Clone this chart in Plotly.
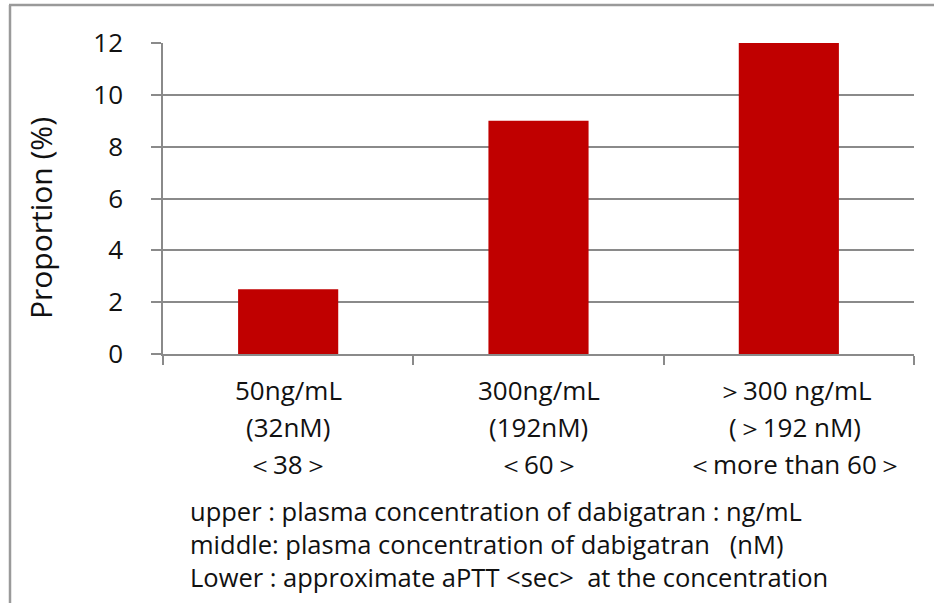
import plotly.graph_objects as go

# Bleeding proportion by dabigatran plasma concentration
conc_ngml = ["50ng/mL", "300ng/mL", "＞300 ng/mL"]
conc_nm = ["(32nM)", "(192nM)", "(＞192 nM)"]
aptt_sec = ["＜38＞", "＜60＞", "＜more than 60＞"]
proportion = [2.5, 9, 12]
y_ticks = [0, 2, 4, 6, 8, 10, 12]
notes = [
    "upper : plasma concentration of dabigatran : ng/mL",
    "middle: plasma concentration of dabigatran\u00a0\u00a0 (nM)",
    "Lower : approximate aPTT &lt;sec&gt;\u00a0 at the concentration",
]

W, H = 934, 603
L, R, T, B = 163, 20, 43, 249
pw, ph = W - L - R, H - T - B

FONT = "'Open Sans', 'Noto Sans', sans-serif"
GRAY = "#8a8a8a"
INK = "#111111"


def px_x(x):
    return (x - L) / pw


def px_y(y):
    return (H - B - y) / ph


fig = go.Figure(
    go.Bar(
        x=conc_ngml,
        y=proportion,
        marker=dict(color="#C00000", line=dict(width=0)),
        width=0.4,
    )
)

annotations = []
# three-line category labels under each bar
for i, cat in enumerate(conc_ngml):
    for j, txt in enumerate([conc_ngml[i], conc_nm[i], aptt_sec[i]]):
        annotations.append(
            dict(
                x=cat, xref="x", y=px_y(390 + 37 * j), yref="paper",
                text=txt, showarrow=False, xanchor="center", yanchor="middle",
                xshift=6 if i == 2 else 0,
                font=dict(family=FONT, size=26, color=INK),
            )
        )

# explanatory notes below the chart
for k, line in enumerate(notes):
    annotations.append(
        dict(
            x=px_x(188), xref="paper", y=px_y(511 + 33 * k), yref="paper",
            text=line, showarrow=False, xanchor="left", yanchor="middle",
            font=dict(family=FONT, size=25.5, color=INK),
        )
    )

# y-axis title
annotations.append(
    dict(
        x=px_x(41), xref="paper", y=px_y(218), yref="paper",
        text="Proportion (%)", textangle=-90, showarrow=False,
        xanchor="center", yanchor="middle",
        font=dict(family=FONT, size=30, color=INK),
    )
)

# outer frame lines (left and top)
shapes = [
    dict(type="line", xref="paper", yref="paper",
         x0=px_x(10), x1=px_x(10), y0=px_y(5), y1=px_y(H + 5),
         line=dict(color="#9a9a9a", width=2.5)),
    dict(type="line", xref="paper", yref="paper",
         x0=px_x(9), x1=px_x(W + 5), y0=px_y(5), y1=px_y(5),
         line=dict(color="#9a9a9a", width=2.5)),
]

fig.update_layout(
    width=W, height=H,
    margin=dict(l=L, r=R, t=T, b=B, pad=0),
    paper_bgcolor="white", plot_bgcolor="white",
    showlegend=False,
    bargap=0.6,
    annotations=annotations,
    shapes=shapes,
    xaxis=dict(
        showticklabels=False,
        ticks="outside", tickson="boundaries", ticklen=9, tickwidth=1.5,
        tickcolor=GRAY, showline=True, linecolor=GRAY, linewidth=1.5,
        showgrid=False, zeroline=False, fixedrange=True,
    ),
    yaxis=dict(
        range=[0, 12], tickvals=y_ticks,
        ticks="outside", ticklen=10, tickwidth=1.5, tickcolor=GRAY,
        showline=True, linecolor=GRAY, linewidth=1.5,
        showgrid=True, gridcolor=GRAY, gridwidth=1.5, zeroline=False,
        tickfont=dict(family=FONT, size=26, color=INK),
        ticklabelstandoff=23, fixedrange=True,
    ),
)

fig.write_html("out.html", config={"displayModeBar": False})
